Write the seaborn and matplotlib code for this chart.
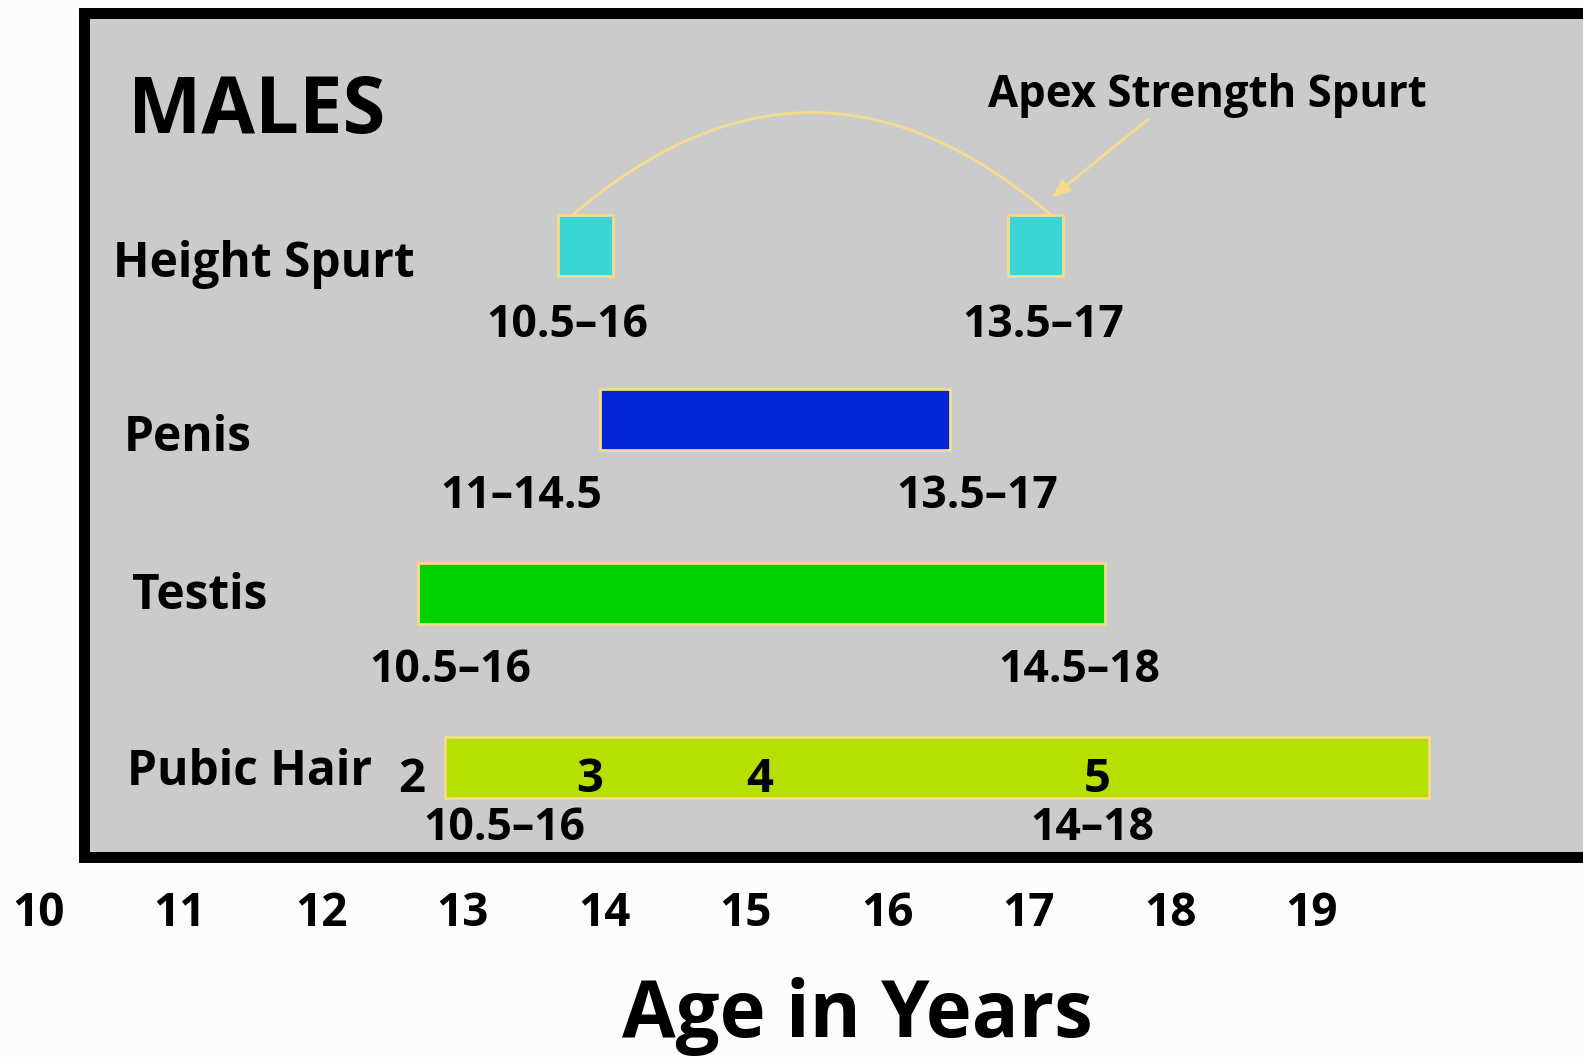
import matplotlib
matplotlib.use("Agg")
import matplotlib.pyplot as plt
import matplotlib.transforms as mtransforms
from matplotlib.patches import Rectangle
import seaborn as sns

# data
rows = ["Height Spurt", "Penis", "Testis", "Pubic Hair"]
bar_row = [0, 0, 1, 2, 3]
bar_start = [13.67, 16.85, 13.97, 12.68, 12.87]
bar_end = [14.06, 17.24, 16.44, 17.54, 19.83]
bar_colors = ["#3bd5d6", "#3bd5d6", "#0425d3", "#00d100", "#b5e000"]
range_labels = ["10.5\u201316", "13.5\u201317", "11\u201314.5", "13.5\u201317",
                "10.5\u201316", "14.5\u201318", "10.5\u201316", "14\u201318"]
range_row = [0, 0, 1, 1, 2, 2, 3, 3]
stages = ["2", "3", "4", "5"]
ages = list(range(10, 20))

sns.set_theme(style="white")
plt.rcParams["font.family"] = ["Open Sans", "DejaVu Sans"]
plt.rcParams["font.weight"] = "bold"
plt.rcParams["text.color"] = "black"
plt.rcParams["xtick.color"] = "black"

W, H = 1583, 1057
fig = plt.figure(figsize=(W / 100, H / 100), dpi=100, facecolor="#fcfcfc")
# axes spans full width; bottom edge = bottom of the black box
ax = fig.add_axes([0, (H - 862) / H, 1, (862 - 7) / H])
ax.set_facecolor("none")
for s in ax.spines.values():
    s.set_visible(False)

ax.set_xlim(9.729, 20.915)
ax.set_ylim(3.543, -1.371)

# gray box with thick black border
ax.add_patch(Rectangle((83.5 / W, 5.5 / 855), 1.2, 844 / 855, transform=ax.transAxes,
                       facecolor="#cbcbcb", edgecolor="black", linewidth=7.9,
                       clip_on=False, zorder=0))

edge = "#f4dc8c"
ax.barh(bar_row, [e - s for s, e in zip(bar_start, bar_end)], left=bar_start,
        height=0.35, color=bar_colors, edgecolor=edge, linewidth=2, zorder=2)

ax.set_xticks(ages)
ax.set_xticklabels([str(a) for a in ages], fontsize=33, fontweight="bold", color="black")
ax.set_yticks([])
ax.tick_params(axis="x", length=0, pad=20)

# pixel transform (from top-left)
px = mtransforms.Affine2D().scale(1 / W, -1 / H).translate(0, 1) + fig.transFigure

fig.text(128, 133, "MALES", transform=px, fontsize=56, fontweight="bold", ha="left", va="baseline")

name_pos = [(113, 277), (124, 451), (132, 609), (127, 785)]
for name, (x, y) in zip(rows, name_pos):
    fig.text(x, y, name, transform=px, fontsize=34.5, fontweight="bold", ha="left", va="baseline")

range_pos = [(567, 337), (1043, 337), (521, 508), (977, 508),
             (450, 682), (1079, 682), (504, 840), (1092, 840)]
for lab, (x, y) in zip(range_labels, range_pos):
    fig.text(x, y, lab, transform=px, fontsize=32, fontweight="bold", ha="center", va="baseline")

stage_x = [412, 590, 760, 1097]
for st, x in zip(stages, stage_x):
    fig.text(x, 792, st, transform=px, fontsize=34, fontweight="bold", ha="center", va="baseline", zorder=5)

fig.text(1207, 107, "Apex Strength Spurt", transform=px, fontsize=31.5, fontweight="bold",
         ha="center", va="baseline")

# arc between the two height-spurt squares
ax.annotate("", xy=(17.16, -0.172), xytext=(13.77, -0.172),
            arrowprops=dict(arrowstyle="-", color=edge, lw=2,
                            connectionstyle="arc3,rad=-0.43", shrinkA=0, shrinkB=0), zorder=3)
# arrow from label
ax.annotate("", xy=(17.16, -0.276), xytext=(17.84, -0.724),
            arrowprops=dict(arrowstyle="-|>,head_length=0.9,head_width=0.35", color=edge, lw=2,
                            shrinkA=0, shrinkB=0), zorder=3)

fig.text(857, 1037, "Age in Years", transform=px, fontsize=56, fontweight="bold",
         ha="center", va="baseline")

fig.savefig("out.png", dpi=100, facecolor=fig.get_facecolor())
